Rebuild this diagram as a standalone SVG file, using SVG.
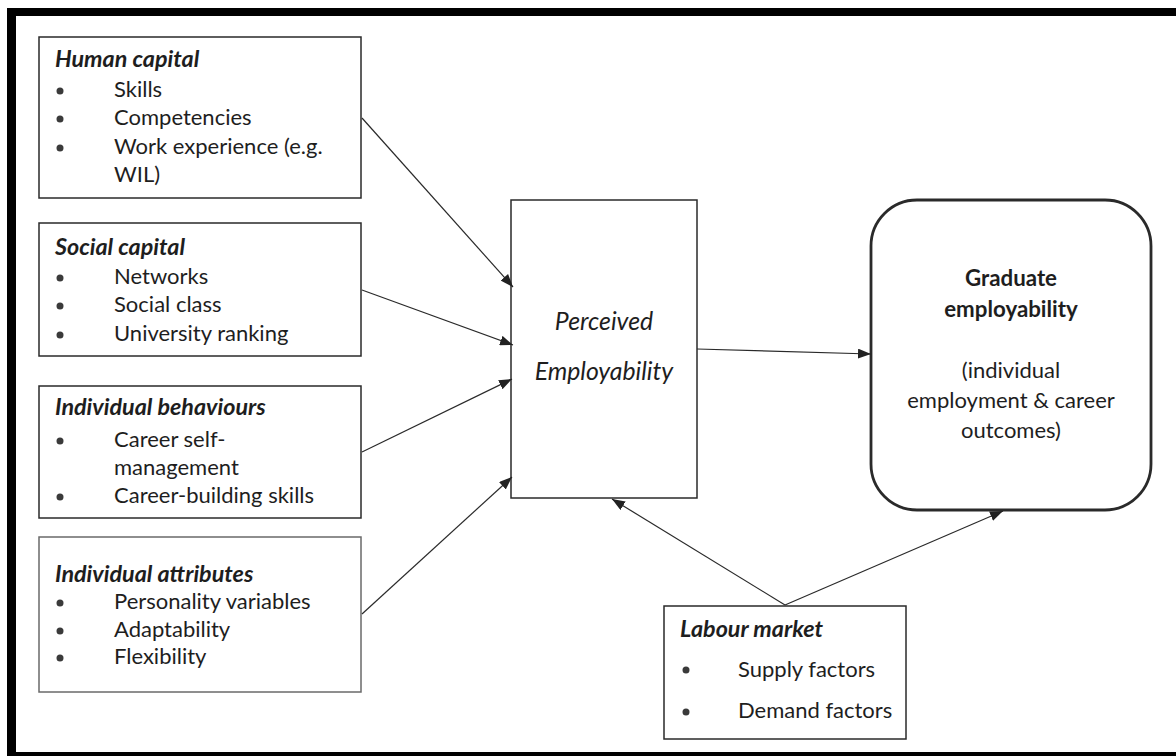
<svg xmlns="http://www.w3.org/2000/svg" width="1176" height="756" viewBox="0 0 1176 756">
<defs>
<style>
text{font-family:Lato,"Liberation Sans",sans-serif;font-size:22px;fill:#1e1e1e}
.hd{font-weight:bold;font-style:italic;font-size:23.3px}
.it{font-style:italic;font-size:24.8px}
.b{font-weight:bold;font-size:22.3px}
.mid{text-anchor:middle}
.box{fill:#fff;stroke:#2a2a2a;stroke-width:1.5}
.dot{fill:#3a3a3a}
.con line{stroke:#2a2a2a;stroke-width:1.2;marker-end:url(#ah)}
</style>
<marker id="ah" markerUnits="userSpaceOnUse" markerWidth="14" markerHeight="10" refX="13" refY="5" orient="auto">
<path d="M0,0 L13,5 L0,10 z" fill="#222"/>
</marker>
</defs>
<rect width="1176" height="756" fill="#fff"/>
<g id="frame" fill="#000">
<rect x="7" y="8" width="1169" height="8"/>
<rect x="7" y="8" width="9" height="748"/>
<rect x="7" y="752" width="1169" height="4"/>
</g>
<g id="human-capital">
<rect class="box" x="39" y="37" width="322" height="161"/>
<text class="hd" x="55" y="67">Human capital</text>
<circle class="dot" cx="60" cy="91" r="3.5"/><text x="114" y="97">Skills</text>
<circle class="dot" cx="60" cy="119" r="3.5"/><text x="114" y="125">Competencies</text>
<circle class="dot" cx="60" cy="148" r="3.5"/><text x="114" y="154">Work experience (e.g.</text>
<text x="114" y="182">WIL)</text>
</g>
<g id="social-capital">
<rect class="box" x="39" y="223" width="322" height="133"/>
<text class="hd" x="55" y="255">Social capital</text>
<circle class="dot" cx="60" cy="278" r="3.5"/><text x="114" y="284">Networks</text>
<circle class="dot" cx="60" cy="306" r="3.5"/><text x="114" y="312">Social class</text>
<circle class="dot" cx="60" cy="335" r="3.5"/><text x="114" y="341">University ranking</text>
</g>
<g id="individual-behaviours">
<rect class="box" x="39" y="386" width="322" height="132"/>
<text class="hd" x="55" y="415">Individual behaviours</text>
<circle class="dot" cx="60" cy="441" r="3.5"/><text x="114" y="447">Career self-</text>
<text x="114" y="475">management</text>
<circle class="dot" cx="60" cy="497" r="3.5"/><text x="114" y="503">Career-building skills</text>
</g>
<g id="individual-attributes">
<rect class="box" x="39" y="537" width="322" height="155" style="stroke:#6a6a6a"/>
<text class="hd" x="55" y="582">Individual attributes</text>
<circle class="dot" cx="60" cy="603" r="3.5"/><text x="114" y="609">Personality variables</text>
<circle class="dot" cx="60" cy="631" r="3.5"/><text x="114" y="637">Adaptability</text>
<circle class="dot" cx="60" cy="658" r="3.5"/><text x="114" y="664">Flexibility</text>
</g>
<g id="perceived-employability">
<rect class="box" x="511" y="200" width="186" height="298"/>
<text class="it mid" x="604" y="330">Perceived</text>
<text class="it mid" x="604" y="380">Employability</text>
</g>
<g id="graduate-employability">
<rect class="box" x="871" y="200" width="280" height="310" rx="46" ry="46" style="stroke-width:2.8"/>
<text class="b mid" x="1011" y="286">Graduate</text>
<text class="b mid" x="1011" y="317">employability</text>
<text class="mid" x="1011" y="378">(individual</text>
<text class="mid" x="1011" y="408">employment &amp; career</text>
<text class="mid" x="1011" y="438">outcomes)</text>
</g>
<g id="labour-market">
<rect class="box" x="664" y="606" width="242" height="133"/>
<text class="hd" x="680" y="637">Labour market</text>
<circle class="dot" cx="686" cy="670" r="3.5"/><text x="738" y="677">Supply factors</text>
<circle class="dot" cx="686" cy="712" r="3.5"/><text x="738" y="718">Demand factors</text>
</g>
<g id="connectors" class="con">
<line x1="362" y1="118" x2="513" y2="287"/>
<line x1="362" y1="290" x2="513" y2="345"/>
<line x1="362" y1="452" x2="512" y2="379"/>
<line x1="362" y1="614" x2="512" y2="477"/>
<line x1="697" y1="349" x2="871" y2="354"/>
<line x1="785" y1="605" x2="612" y2="499"/>
<line x1="785" y1="605" x2="1003" y2="511"/>
</g>
</svg>
